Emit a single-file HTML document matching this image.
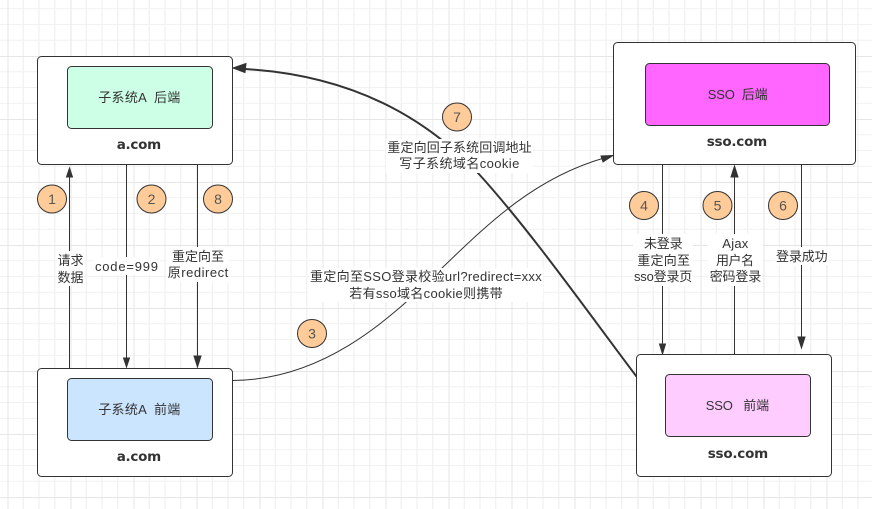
<!DOCTYPE html>
<html><head><meta charset="utf-8"><style>
html,body{margin:0;padding:0;background:#fff}
svg{display:block}
text{font-family:"Liberation Sans","Noto Sans CJK SC",sans-serif;font-size:13px;fill:#333}
.b{font-family:"DejaVu Sans",sans-serif;font-weight:bold;font-size:13.5px;fill:#333}
.n{font-size:14px;fill:#555;text-anchor:middle}
.box{fill:#fff;stroke:#333;stroke-width:1}
.line{fill:none;stroke:#333;stroke-width:1}
.head{fill:#333;stroke:#333;stroke-width:1}
.c{fill:#FFCC99;stroke:#333;stroke-width:1}
</style></head><body>
<svg width="872" height="509" viewBox="0 0 872 509" xmlns="http://www.w3.org/2000/svg">
<defs>
<pattern id="g" x="7.5" y="-7" width="63" height="63" patternUnits="userSpaceOnUse">
<path d="M0 0V63M15.75 0V63M31.5 0V63M47.25 0V63" stroke="#eeeeee" stroke-width="1" fill="none"/>
<path d="M0 0H63M0 15.75H63M0 31.5H63M0 47.25H63" stroke="#f1f1f1" stroke-width="1" fill="none"/>
<path d="M0.5 0V63M0 0.5H63" stroke="#e6e6e6" stroke-width="1" fill="none"/>
</pattern>
</defs>
<rect width="872" height="509" fill="#fff"/>
<rect width="872" height="509" fill="url(#g)"/>

<!-- connectors -->
<path class="line" d="M69.500 368V176"/><path class="head" d="M69.500 168l-3 9h6z"/>
<path class="line" d="M126.500 164.500V358"/><path class="head" d="M126.500 367l-3 -9h6z"/>
<path class="line" d="M197.500 164.500V356"/><path class="head" d="M197.500 367l-3.500 -11h7z"/>
<path class="line" d="M662.500 164.500V344"/><path class="head" d="M662.500 354l-3 -10h6z"/>
<path class="line" d="M734.500 354.500V177"/><path class="head" d="M734.500 166l-3.500 11h7z"/>
<path class="line" d="M801.500 164.500V337"/><path class="head" d="M801.500 348l-3.500 -11h7z"/>
<path class="line" d="M232.500 380.500C320 380 385 325 442 268C490 222 535 178 604 158"/>
<path class="head" d="M613 155.500l-12 0.500l2 6z"/>
<path fill="none" stroke="#333" stroke-width="2" d="M636.500 376.500C590 315 530 230 478 173C435 128 365 76 245 69"/>
<path class="head" d="M233 68l13 -4.500l-1 9z"/>

<!-- boxes -->
<rect class="box" x="37.500" y="56.500" width="195" height="108" rx="4"/>
<rect x="67.500" y="66.500" width="145" height="62" rx="4" fill="#CCFFE6" stroke="#333"/>
<rect class="box" x="37.500" y="368.500" width="195" height="108" rx="4"/>
<rect x="67.500" y="378.500" width="145" height="62" rx="4" fill="#CCE5FF" stroke="#333"/>
<rect class="box" x="613.500" y="42.500" width="242" height="122" rx="4"/>
<rect x="645.500" y="63.500" width="184" height="62" rx="4" fill="#FF66FF" stroke="#333"/>
<rect class="box" x="636.500" y="354.500" width="195" height="122" rx="4"/>
<rect x="665.500" y="374.500" width="145" height="62" rx="4" fill="#FFCCFF" stroke="#333"/>

<!-- label backgrounds -->
<g fill="#fff">
<rect x="57" y="251" width="27" height="35"/>
<rect x="93" y="257" width="67" height="18"/>
<rect x="167" y="247" width="62" height="35"/>
<rect x="309" y="268" width="234" height="34"/>
<rect x="386" y="139" width="147" height="34"/>
<rect x="633" y="234" width="60" height="52"/>
<rect x="708" y="234" width="55" height="52"/>
<rect x="775" y="247" width="54" height="18"/>
</g>

<!-- node text -->
<text x="98.300" y="102" textLength="82" lengthAdjust="spacing" xml:space="preserve">子系统A  后端</text>
<text class="b" x="116.700" y="149" textLength="44.500">a.com</text>
<text x="98.300" y="414" textLength="82" lengthAdjust="spacing" xml:space="preserve">子系统A  前端</text>
<text class="b" x="116.700" y="461" textLength="44.500">a.com</text>
<text x="707.700" y="99" textLength="60" xml:space="preserve">SSO  后端</text>
<text class="b" x="706.700" y="146" textLength="60.500">sso.com</text>
<text x="705.700" y="410" textLength="63.500" xml:space="preserve">SSO   前端</text>
<text class="b" x="707.700" y="458" textLength="60.500">sso.com</text>

<!-- connector labels -->
<text x="57.500" y="265" textLength="26">请求</text>
<text x="57.500" y="282" textLength="26">数据</text>
<text x="95" y="271" textLength="63">code=999</text>
<text x="172" y="261" textLength="52">重定向至</text>
<text x="167.700" y="277" textLength="60.600">原redirect</text>
<text x="310" y="281" textLength="231.700">重定向至SSO登录校验url?redirect=xxx</text>
<text x="349.300" y="298" textLength="153.400">若有sso域名cookie则携带</text>
<text x="387.300" y="152" textLength="144.400">重定向回子系统回调地址</text>
<text x="399.300" y="168" textLength="120">写子系统域名cookie</text>
<text x="644" y="248" textLength="38.600">未登录</text>
<text x="637.300" y="265" textLength="52.700">重定向至</text>
<text x="634" y="281" textLength="58.300">sso登录页</text>
<text x="722.300" y="248" textLength="26">Ajax</text>
<text x="716" y="265" textLength="38">用户名</text>
<text x="709.700" y="281" textLength="51.600">密码登录</text>
<text x="776" y="261" textLength="51.700">登录成功</text>

<!-- numbered circles -->
<ellipse class="c" cx="52" cy="199" rx="14.500" ry="14"/><text class="n" x="52" y="204">1</text>
<ellipse class="c" cx="151.500" cy="199" rx="14.500" ry="14"/><text class="n" x="151.500" y="204">2</text>
<ellipse class="c" cx="218" cy="199" rx="14.500" ry="14"/><text class="n" x="218" y="204">8</text>
<ellipse class="c" cx="312" cy="333.500" rx="14.500" ry="14"/><text class="n" x="312" y="338.500">3</text>
<ellipse class="c" cx="457" cy="117" rx="14.500" ry="14"/><text class="n" x="457" y="122">7</text>
<ellipse class="c" cx="644" cy="205.500" rx="14.500" ry="14"/><text class="n" x="644" y="210.500">4</text>
<ellipse class="c" cx="717.500" cy="205.500" rx="14.500" ry="14"/><text class="n" x="717.500" y="210.500">5</text>
<ellipse class="c" cx="783" cy="205.500" rx="14.500" ry="14"/><text class="n" x="783" y="210.500">6</text>
</svg>
</body></html>
